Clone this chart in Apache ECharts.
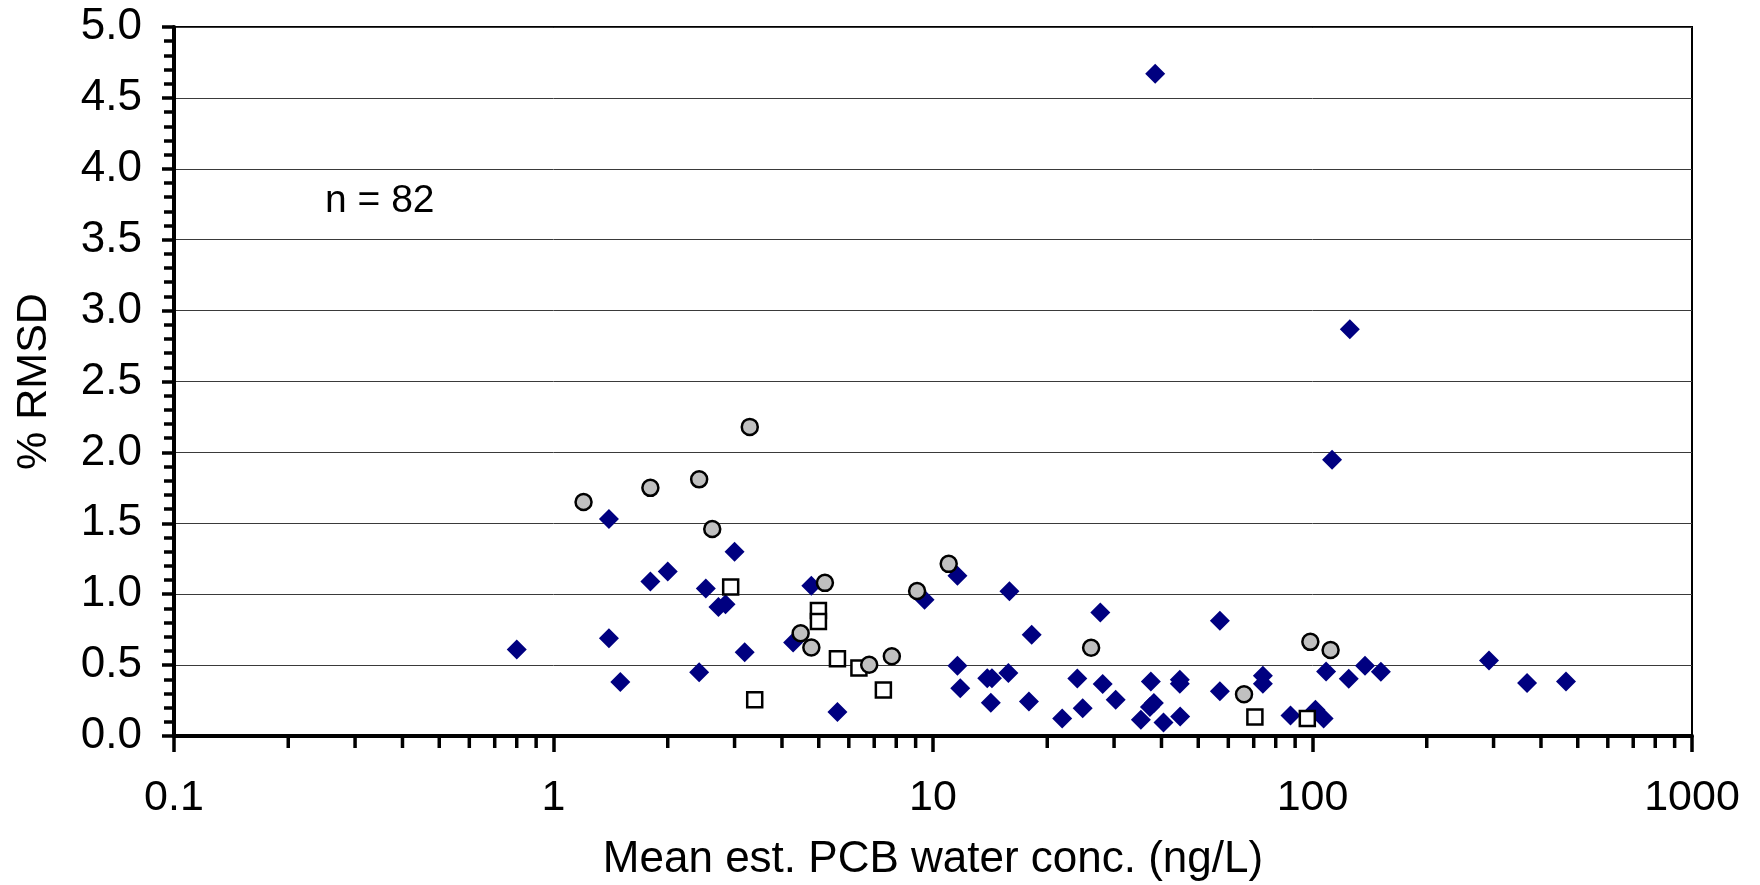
<!DOCTYPE html>
<html><head><meta charset="utf-8">
<script src="https://cdn.jsdelivr.net/npm/echarts@6/dist/echarts.min.js"></script>
<style>html,body{margin:0;padding:0;background:#fff}#c{width:1760px;height:885px}</style>
</head><body><div id="c"></div>
<script>
const FONT = '"Liberation Sans", Arial, Helvetica, sans-serif';

// Navy diamonds
const diamondX = [0.80,1.40,1.40,1.50,1.80,2.00,2.42,2.52,2.72,2.84,3.00,3.19,4.28,4.78,5.60,9.50,11.6,11.6,11.8,13.9,14.3,14.2,15.8,15.9,17.9,18.2,21.9,24.0,24.8,27.6,28.0,30.3,35.3,37.3,37.5,38.2,38.5,40.5,44.7,44.7,44.8,57.0,57.0,74.0,74.0,87.5,101.8,107,108.6,112.6,124.6,125.4,137.5,151.4,291.8,367.6,465.5];
const diamondY = [0.61,1.53,0.69,0.38,1.09,1.16,0.45,1.04,0.91,0.93,1.30,0.59,0.66,1.06,0.17,0.96,1.13,0.495,0.336,0.408,0.408,0.235,0.444,1.02,0.244,0.714,0.124,0.406,0.195,0.871,0.366,0.256,0.115,0.204,0.385,0.232,4.67,0.096,0.397,0.369,0.138,0.812,0.315,0.425,0.369,0.145,0.185,0.124,0.455,1.948,0.404,2.869,0.495,0.453,0.533,0.373,0.385];

// Grey circles
const circleX = [1.2,1.8,2.42,2.62,3.29,4.48,4.78,5.19,6.79,7.79,9.08,11.0,26.1,66.0,98.7,111.6];
const circleY = [1.65,1.75,1.81,1.46,2.18,0.725,0.624,1.08,0.502,0.563,1.023,1.214,0.622,0.295,0.664,0.606];

// Open squares
const squareX = [2.93,3.39,4.99,4.99,5.6,6.38,7.40,70.5,96.9];
const squareY = [1.05,0.256,0.885,0.807,0.545,0.479,0.324,0.134,0.124];

// Axis ticks
const xMajorTicks = [0.1,1,10,100,1000];
const xTickLabels = ['0.1','1','10','100','1000'];
const xMinorTicks = [0.2,0.3,0.4,0.5,0.6,0.7,0.8,0.9,2,3,4,5,6,7,8,9,20,30,40,50,60,70,80,90,200,300,400,500,600,700,800,900];
const yMin = 0, yMax = 5, yStep = 0.5;

const xTitle = 'Mean est. PCB water conc. (ng/L)';
const yTitle = '% RMSD';
const note = 'n = 82';

function pairs(xs, ys) { return xs.map((x, i) => [x, ys[i]]); }

const chart = echarts.init(document.getElementById('c'), null, {renderer: 'canvas'});

const option = {
  animation: false,
  backgroundColor: '#ffffff',
  grid: {
    left: 174, right: 68, top: 27, bottom: 149,
    show: true, borderColor: '#000', borderWidth: 2,
    containLabel: false, outerBoundsMode: 'none'
  },
  xAxis: {
    type: 'log', logBase: 10, min: 0.1, max: 1000,
    name: xTitle, nameLocation: 'middle', nameGap: 102,
    nameTextStyle: {fontFamily: FONT, fontSize: 44, color: '#000'},
    axisLine: {show: true, onZero: false, lineStyle: {color: '#000', width: 4}},
    axisTick: {show: true, inside: false, length: 16, lineStyle: {color: '#000', width: 3.5}},
    axisLabel: {
      show: true, margin: 41, fontFamily: FONT, fontSize: 43, color: '#000',
      showMinLabel: true, showMaxLabel: true, hideOverlap: false,
      formatter: function (v) {
        const i = xMajorTicks.findIndex(t => Math.abs(Math.log10(t) - Math.log10(v)) < 1e-6);
        return i >= 0 ? xTickLabels[i] : '';
      }
    },
    splitLine: {show: false},
    minorTick: {show: false}
  },
  yAxis: {
    type: 'value', min: yMin, max: yMax, interval: yStep,
    name: yTitle, nameLocation: 'middle', nameGap: 118, nameRotate: 90,
    nameTextStyle: {fontFamily: FONT, fontSize: 43, color: '#000'},
    axisLine: {show: true, onZero: false, lineStyle: {color: '#000', width: 4}},
    axisTick: {show: true, inside: false, length: 12, lineStyle: {color: '#000', width: 3.5}},
    minorTick: {show: true, splitNumber: 5, length: 10, lineStyle: {color: '#000', width: 3.5}},
    axisLabel: {
      margin: 32, fontFamily: FONT, fontSize: 44, color: '#000',
      showMinLabel: true, showMaxLabel: true,
      formatter: v => v.toFixed(1)
    },
    splitLine: {show: true, lineStyle: {color: '#3a3a3a', width: 1}}
  },
  series: [
    {
      name: 'diamond', type: 'scatter', data: pairs(diamondX, diamondY),
      symbol: 'diamond', symbolSize: [20, 20],
      itemStyle: {color: '#000080', opacity: 1},
      z: 2
    },
    {
      name: 'square', type: 'scatter', data: pairs(squareX, squareY),
      symbol: 'rect', symbolSize: 15,
      itemStyle: {color: '#ffffff', borderColor: '#000', borderWidth: 2.5, opacity: 1},
      z: 3
    },
    {
      name: 'circle', type: 'scatter', data: pairs(circleX, circleY),
      symbol: 'circle', symbolSize: 16,
      itemStyle: {color: '#c0c0c0', borderColor: '#000', borderWidth: 2.5, opacity: 1},
      z: 4
    }
  ]
};

chart.setOption(option);

// Minor log ticks positioned through the library's own x scale
const graphics = [];
xMinorTicks.forEach(v => {
  const p = chart.convertToPixel({xAxisIndex: 0, yAxisIndex: 0}, [v, yMin]);
  if (p && isFinite(p[0])) {
    graphics.push({
      type: 'line', silent: true, z: 10,
      shape: {x1: p[0], y1: p[1], x2: p[0], y2: p[1] + 12},
      style: {stroke: '#000', lineWidth: 3.5}
    });
  }
});
// annotation text anchored in data space
const np = chart.convertToPixel({xAxisIndex: 0, yAxisIndex: 0}, [0.25, 3.77]);
graphics.push({
  type: 'text', x: np[0], y: np[1], z: 10,
  style: {text: note, font: '39px ' + FONT, fill: '#000', textAlign: 'left', textVerticalAlign: 'middle'}
});
chart.setOption({graphic: graphics});
</script>
</body></html>
